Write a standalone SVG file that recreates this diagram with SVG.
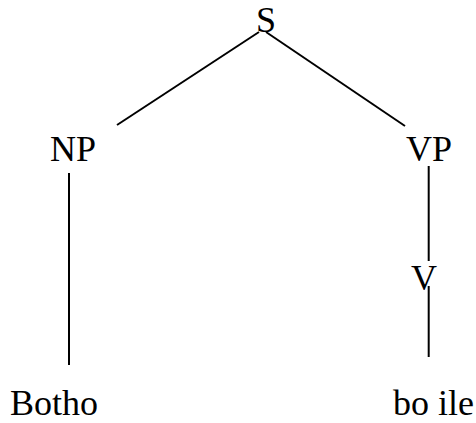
<svg xmlns="http://www.w3.org/2000/svg" width="476" height="423" viewBox="0 0 476 423">
<style>
text{font-family:"Liberation Serif","Times New Roman",serif;font-size:36px;fill:#000}
line{stroke:#000;stroke-width:2}
</style>
<rect width="476" height="423" fill="#fff"/>
<g id="connectors">
<line x1="259" y1="32" x2="117" y2="125"/>
<line x1="266" y1="32" x2="405" y2="126"/>
<line x1="69" y1="173" x2="69" y2="365"/>
<line x1="428.7" y1="166" x2="428.7" y2="261"/>
<line x1="428.7" y1="286" x2="428.7" y2="357"/>
</g>
<g id="S"><text x="256" y="32">S</text></g>
<g id="NP"><text x="50" y="161">NP</text></g>
<g id="VP"><text x="406" y="161">VP</text></g>
<g id="V"><text x="411" y="290">V</text></g>
<g id="Botho"><text x="10" y="415">Botho</text></g>
<g id="boile"><text x="393" y="415">bo ile</text></g>
</svg>
